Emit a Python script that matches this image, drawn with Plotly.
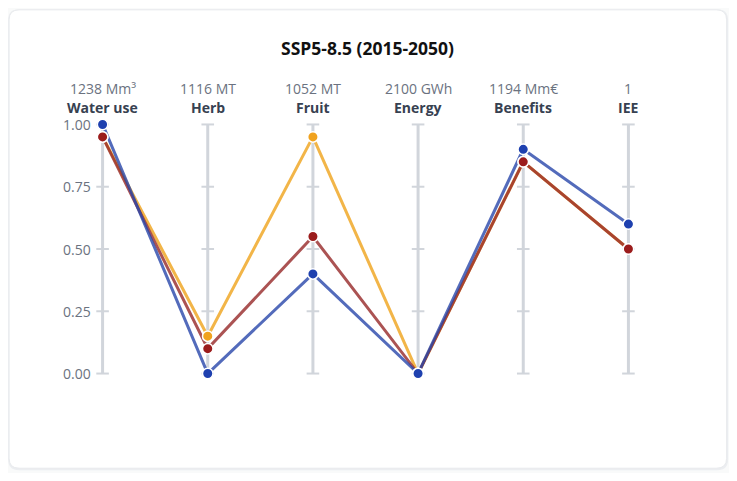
import plotly.graph_objects as go

# ---- data ----
dimensions = ["Water use", "Herb", "Fruit", "Energy", "Benefits", "IEE"]
max_labels = ["1238 Mm³", "1116 MT", "1052 MT", "2100 GWh", "1194 Mm€", "1"]
tick_values = [0.0, 0.25, 0.5, 0.75, 1.0]
tick_labels = ["0.00", "0.25", "0.50", "0.75", "1.00"]

series_yellow = [0.95, 0.15, 0.95, 0.0, 0.85, 0.5]
series_red = [0.95, 0.10, 0.55, 0.0, 0.85, 0.5]
series_blue = [1.00, 0.00, 0.40, 0.0, 0.90, 0.6]

series = [
    ("Yellow", series_yellow, "rgba(240,168,40,0.85)", "#f0a21e"),
    ("Red", series_red, "rgba(150,40,40,0.8)", "#9b1c1c"),
    ("Blue", series_blue, "rgba(40,70,170,0.8)", "#1e40af"),
]

# page body has an 8px margin; figure coordinates = reference - 8
OFF = 8
W, H = 721, 465
L, T = 50.4 - OFF, 111.5 - OFF
PW, PH = 631, 275
R, B = W - L - PW, H - T - PH

def px(x):
    return (x - OFF - L) / PW

def py(y):
    return 1 - (y - OFF - T) / PH

xs = list(range(len(dimensions)))
fig = go.Figure()

grey = "#d1d5db"
shapes = []

def rounded(x0, y0, x1, y1, r):
    X0, X1 = px(x0), px(x1)
    Y0, Y1 = py(y0), py(y1)
    rx, ry = r / PW, r / PH
    return (f"M {X0+rx},{Y0} L {X1-rx},{Y0} Q {X1},{Y0} {X1},{Y0-ry} "
            f"L {X1},{Y1+ry} Q {X1},{Y1} {X1-rx},{Y1} L {X0+rx},{Y1} "
            f"Q {X0},{Y1} {X0},{Y1+ry} L {X0},{Y0-ry} Q {X0},{Y0} {X0+rx},{Y0} Z")

shapes.append(dict(type="path", xref="paper", yref="paper", layer="below",
                   path=rounded(8.5, 8.5, 728.5, 471, 11), fillcolor="#eceef1", line=dict(width=0)))
shapes.append(dict(type="path", xref="paper", yref="paper", layer="below",
                   path=rounded(9.5, 9, 727, 469, 10), fillcolor="#ffffff",
                   line=dict(color="#e8eaed", width=1)))

for i in xs:
    shapes.append(dict(type="line", xref="x", yref="y", x0=i, x1=i, y0=0, y1=1,
                       line=dict(color=grey, width=3), layer="below"))

fig.update_layout(shapes=shapes)

# tick marks
tx, ty = [], []
for i in xs:
    for v in tick_values:
        tx.append(i)
        ty.append(v)
fig.add_trace(go.Scatter(x=tx, y=ty, mode="markers", hoverinfo="skip",
                         marker=dict(symbol="line-ew", size=9, line=dict(color=grey, width=2)),
                         showlegend=False))

for name, vals, lc, mc in series:
    fig.add_trace(go.Scatter(x=xs, y=vals, mode="lines", name=name,
                             line=dict(color=lc, width=3), showlegend=False, hoverinfo="skip"))
for name, vals, lc, mc in series:
    fig.add_trace(go.Scatter(x=xs, y=vals, mode="markers", name=name,
                             marker=dict(color=mc, size=10.5, line=dict(color="white", width=1.5)),
                             showlegend=False))

annotations = []
for v, lab in zip(tick_values, tick_labels):
    annotations.append(dict(x=0, y=v, xref="x", yref="y", text=lab, showarrow=False,
                            xanchor="right", yanchor="middle", xshift=-10,
                            font=dict(size=14, color="#6b7280")))
for i, (d, m) in enumerate(zip(dimensions, max_labels)):
    annotations.append(dict(x=i, y=1, xref="x", yref="y", text=m, showarrow=False,
                            xanchor="center", yanchor="middle", yshift=36,
                            font=dict(size=14, color="#6b7280")))
    annotations.append(dict(x=i, y=1, xref="x", yref="y", text=f"<b>{d}</b>", showarrow=False,
                            xanchor="center", yanchor="middle", yshift=17,
                            font=dict(size=14, color="#374151")))
annotations.append(dict(x=px(368), y=py(47), xref="paper", yref="paper",
                        text="<b>SSP5-8.5 (2015-2050)</b>", showarrow=False,
                        xanchor="center", yanchor="middle",
                        font=dict(size=17.5, color="#111111")))

fig.update_layout(
    width=W, height=H,
    margin=dict(l=L, r=R, t=T, b=B),
    paper_bgcolor="#f9fafa",
    plot_bgcolor="rgba(0,0,0,0)",
    font=dict(family="Open Sans, sans-serif"),
    annotations=annotations,
    xaxis=dict(range=[-0.5, 5.5], visible=False, fixedrange=True),
    yaxis=dict(range=[-0.05, 1.05], visible=False, fixedrange=True),
)

fig.write_html("out.html", config={"displayModeBar": False})
